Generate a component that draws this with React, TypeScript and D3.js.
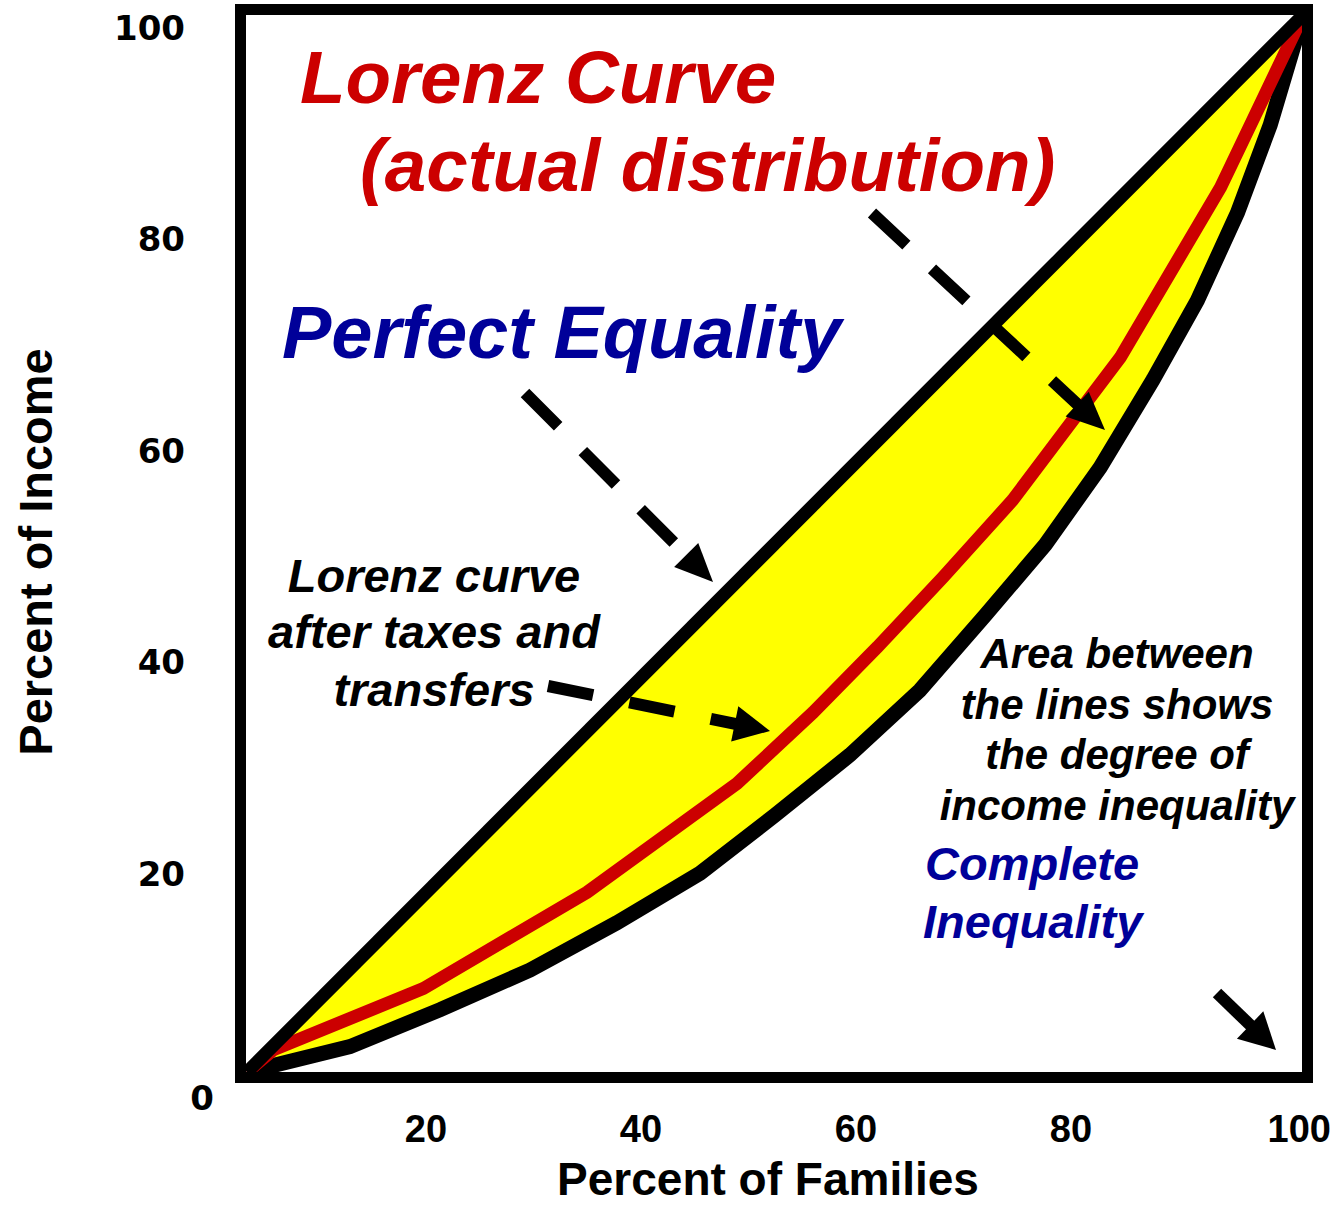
import React from "react";
import * as d3 from "d3";

// ---- data (percent of families vs percent of income) ----
const equalityX = [0, 100];
const equalityY = [0, 100];

// Lower black Lorenz curve
const actualX = [0, 9.75, 18.3, 26.8, 35.0, 42.9, 50.0, 57.1, 63.7, 69.9, 75.6, 80.8, 85.8, 90.0, 93.8, 96.9, 100];
const actualY = [0, 2.4, 5.9, 9.65, 14.1, 18.8, 24.3, 30.0, 36.1, 43.2, 49.9, 57.2, 65.5, 73.0, 81.3, 89.6, 100];

// Red Lorenz curve (after taxes and transfers)
const afterX = [0, 2.5, 16.7, 32.2, 46.4, 53.6, 59.7, 65.9, 72.5, 77.7, 82.7, 92.2, 100];
const afterY = [0, 2.1, 7.9, 17.0, 27.3, 34.0, 40.2, 46.8, 54.1, 61.0, 67.6, 83.7, 100];

const xTicks = [20, 40, 60, 80, 100];
const yTicks = [20, 40, 60, 80, 100];

const W = 1339;
const H = 1206;
const FONT = "'Liberation Sans', Arial, Helvetica, sans-serif";

type P = [number, number];

function arrowParts(x1: number, y1: number, x2: number, y2: number, headLen: number, headW: number) {
  const dx = x2 - x1, dy = y2 - y1;
  const L = Math.hypot(dx, dy);
  const ux = dx / L, uy = dy / L;
  const px = -uy, py = ux;
  const bx = x2 - ux * headLen, by = y2 - uy * headLen;
  const lineEnd: P = [x2 - ux * headLen * 0.6, y2 - uy * headLen * 0.6];
  const head = [
    [x2, y2],
    [bx + px * headW / 2, by + py * headW / 2],
    [bx - px * headW / 2, by - py * headW / 2],
  ].map((p) => p.join(",")).join(" ");
  return { lineEnd, head };
}

function Arrow({ from, to, dash, headLen = 38, headW = 34, width = 12 }: { from: P; to: P; dash?: string; headLen?: number; headW?: number; width?: number }) {
  const { lineEnd, head } = arrowParts(from[0], from[1], to[0], to[1], headLen, headW);
  return (
    <g>
      <line x1={from[0]} y1={from[1]} x2={lineEnd[0]} y2={lineEnd[1]} stroke="#000" strokeWidth={width} strokeDasharray={dash} />
      <polygon points={head} fill="#000" />
    </g>
  );
}

export default function App() {
  const x = d3.scaleLinear().domain([0, 100]).range([247, 1303]);
  const y = d3.scaleLinear().domain([0, 100]).range([1072, 15]);
  const xLabel = d3.scaleLinear().domain([0, 100]).range([211, 1286]);

  const toPts = (xs: number[], ys: number[]): P[] => xs.map((v, i) => [v, ys[i]]);
  const line = d3.line<P>().x((d) => x(d[0])).y((d) => y(d[1]));

  const eqPts = toPts(equalityX, equalityY);
  const actualPts = toPts(actualX, actualY);
  const afterPts = toPts(afterX, afterY);

  const areaPts: P[] = [...eqPts, ...actualPts.slice().reverse()];
  const areaPath = line(areaPts) + "Z";

  return (
    <svg width={W} height={H} viewBox={`0 0 ${W} ${H}`} style={{ position: "absolute", left: 0, top: 0, background: "#fff" }}>
      <rect x={0} y={0} width={W} height={H} fill="#fff" />
      {/* yellow area between equality and lowest curve */}
      <path d={areaPath} fill="#ffff00" stroke="none" />
      {/* black Lorenz curve */}
      <path d={line(actualPts) || ""} fill="none" stroke="#000" strokeWidth={15} strokeLinejoin="miter" />
      {/* red Lorenz curve */}
      <path d={line(afterPts) || ""} fill="none" stroke="#cc0000" strokeWidth={13} strokeLinejoin="miter" />
      {/* perfect equality */}
      <path d={line(eqPts) || ""} fill="none" stroke="#000" strokeWidth={13} />
      {/* frame */}
      <rect x={x(0) - 6.5} y={y(100) - 5.5} width={x(100) - x(0) + 11} height={y(0) - y(100) + 11} fill="none" stroke="#000" strokeWidth={11} />

      {/* arrows */}
      <Arrow from={[872, 213]} to={[1105, 430]} dash="47 35" />
      <Arrow from={[525, 393]} to={[713, 582]} dash="47 35" />
      <Arrow from={[548, 686]} to={[770, 731]} dash="46 37" headLen={36} headW={36} />
      <Arrow from={[1217, 993]} to={[1276, 1050]} headLen={36} headW={38} />

      {/* texts */}
      <g fontFamily={FONT} fontWeight="bold" fontStyle="italic">
        <text x={300} y={103} fontSize={74.5} fill="#cc0000">Lorenz Curve</text>
        <text x={360} y={191} fontSize={74.5} fill="#cc0000">(actual distribution)</text>
        <text x={282} y={358} fontSize={74} fill="#000099">Perfect Equality</text>
        <g fontSize={47} fill="#000" textAnchor="middle">
          <text x={434} y={592}>Lorenz curve</text>
          <text x={434} y={648}>after taxes and</text>
          <text x={434} y={706}>transfers</text>
        </g>
        <g fontSize={42} fill="#000" textAnchor="middle">
          <text x={1117} y={668}>Area between</text>
          <text x={1117} y={719}>the lines shows</text>
          <text x={1117} y={769}>the degree of</text>
          <text x={1117} y={820}>income inequality</text>
        </g>
        <g fontSize={47} fill="#000099">
          <text x={925} y={880}>Complete</text>
          <text x={923} y={938}>Inequality</text>
        </g>
      </g>

      {/* y tick labels */}
      <g fontFamily="'DejaVu Sans', sans-serif" fontWeight="bold" fontSize={34} fill="#000">
        {yTicks.map((v) => (
          <text key={v} x={185} y={y(v) + 13} textAnchor="end" dominantBaseline="central">{v}</text>
        ))}
        <text x={202} y={1098} textAnchor="middle" dominantBaseline="central">0</text>
      </g>
      {/* x tick labels */}
      <g fontFamily={FONT} fontWeight="bold" fontSize={38} fill="#000">
        {xTicks.map((v) => (
          v === 100 ? (
            <text key={v} x={W - 8} y={1142} textAnchor="end">{v}</text>
          ) : (
            <text key={v} x={xLabel(v)} y={1142} textAnchor="middle">{v}</text>
          )
        ))}
      </g>

      {/* axis titles */}
      <text x={768} y={1195} textAnchor="middle" fontFamily={FONT} fontWeight="bold" fontSize={46} fill="#000">Percent of Families</text>
      <text transform="translate(52,552) rotate(-90)" textAnchor="middle" fontFamily={FONT} fontWeight="bold" fontSize={47} fill="#000">Percent of Income</text>
    </svg>
  );
}
